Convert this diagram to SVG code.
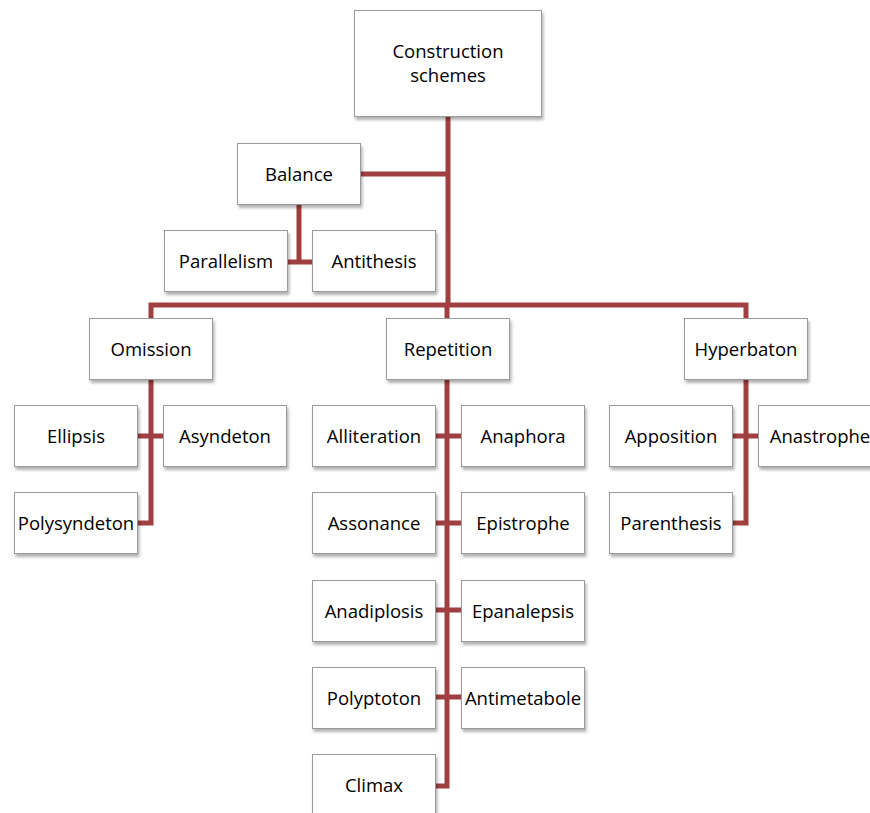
<svg xmlns="http://www.w3.org/2000/svg" width="870" height="813" viewBox="0 0 870 813">
<defs>
<filter id="sh" x="-10%" y="-10%" width="130%" height="140%">
<feDropShadow dx="1.5" dy="3" stdDeviation="1.8" flood-color="#000" flood-opacity="0.3"/>
</filter>
<style>
.b{fill:#fff;stroke:#9a9a9a;stroke-width:1;filter:url(#sh)}
.t{font-family:"Open Sans","Liberation Sans",sans-serif;font-size:18.5px;fill:#000;text-anchor:middle}
.c{fill:none;stroke:#a03f3f;stroke-width:5;stroke-linejoin:miter;stroke-linecap:butt}
</style>
</defs>
<rect width="870" height="813" fill="#fff"/>
<g id="connectors">
<path class="c" d="M448,117 V305"/>
<path class="c" d="M360,174 H448"/>
<path class="c" d="M299,204 V262 M287,262 H312"/>
<path class="c" d="M151,318 V305 H746 V318"/>
<path class="c" d="M447,305 V318"/>
<path class="c" d="M151,379 V523 H138 M138,436 H163"/>
<path class="c" d="M447,379 V786 H435 M435,436 H461 M435,523 H461 M435,610 H461 M435,697 H461"/>
<path class="c" d="M746,379 V523 H733 M733,436 H758"/>
</g>
<g id="construction"><rect class="b" x="354.5" y="10.5" width="187" height="106"/><text class="t" x="448" y="57.5">Construction</text><text class="t" x="448" y="81.5">schemes</text></g>
<g id="balance"><rect class="b" x="237.5" y="143.5" width="123" height="61"/><text class="t" x="299" y="180.5">Balance</text></g>
<g id="parallelism"><rect class="b" x="164.5" y="230.5" width="123" height="61"/><text class="t" x="226" y="267.5">Parallelism</text></g>
<g id="antithesis"><rect class="b" x="312.5" y="230.5" width="123" height="61"/><text class="t" x="374" y="267.5">Antithesis</text></g>
<g id="omission"><rect class="b" x="89.5" y="318.5" width="123" height="61"/><text class="t" x="151" y="355.5">Omission</text></g>
<g id="repetition"><rect class="b" x="386.5" y="318.5" width="123" height="61"/><text class="t" x="448" y="355.5">Repetition</text></g>
<g id="hyperbaton"><rect class="b" x="684.5" y="318.5" width="123" height="61"/><text class="t" x="746" y="355.5">Hyperbaton</text></g>
<g id="ellipsis"><rect class="b" x="14.5" y="405.5" width="123" height="61"/><text class="t" x="76" y="442.5">Ellipsis</text></g>
<g id="asyndeton"><rect class="b" x="163.5" y="405.5" width="123" height="61"/><text class="t" x="225" y="442.5">Asyndeton</text></g>
<g id="polysyndeton"><rect class="b" x="14.5" y="492.5" width="123" height="61"/><text class="t" x="76" y="529.5">Polysyndeton</text></g>
<g id="alliteration"><rect class="b" x="312.5" y="405.5" width="123" height="61"/><text class="t" x="374" y="442.5">Alliteration</text></g>
<g id="anaphora"><rect class="b" x="461.5" y="405.5" width="123" height="61"/><text class="t" x="523" y="442.5">Anaphora</text></g>
<g id="assonance"><rect class="b" x="312.5" y="492.5" width="123" height="61"/><text class="t" x="374" y="529.5">Assonance</text></g>
<g id="epistrophe"><rect class="b" x="461.5" y="492.5" width="123" height="61"/><text class="t" x="523" y="529.5">Epistrophe</text></g>
<g id="anadiplosis"><rect class="b" x="312.5" y="580.5" width="123" height="61"/><text class="t" x="374" y="617.5">Anadiplosis</text></g>
<g id="epanalepsis"><rect class="b" x="461.5" y="580.5" width="123" height="61"/><text class="t" x="523" y="617.5">Epanalepsis</text></g>
<g id="polyptoton"><rect class="b" x="312.5" y="667.5" width="123" height="61"/><text class="t" x="374" y="704.5">Polyptoton</text></g>
<g id="antimetabole"><rect class="b" x="461.5" y="667.5" width="123" height="61"/><text class="t" x="523" y="704.5">Antimetabole</text></g>
<g id="climax"><rect class="b" x="312.5" y="754.5" width="123" height="61"/><text class="t" x="374" y="791.5">Climax</text></g>
<g id="apposition"><rect class="b" x="609.5" y="405.5" width="123" height="61"/><text class="t" x="671" y="442.5">Apposition</text></g>
<g id="anastrophe"><rect class="b" x="758.5" y="405.5" width="123" height="61"/><text class="t" x="820" y="442.5">Anastrophe</text></g>
<g id="parenthesis"><rect class="b" x="609.5" y="492.5" width="123" height="61"/><text class="t" x="671" y="529.5">Parenthesis</text></g>
</svg>
